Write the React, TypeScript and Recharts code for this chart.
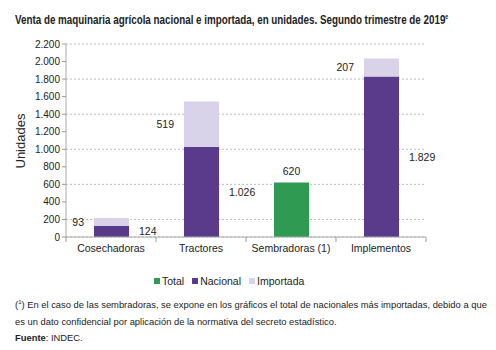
import { Bar, BarChart, CartesianGrid, LabelList, XAxis, YAxis } from "recharts"

const categories = ["Cosechadoras", "Tractores", "Sembradoras (1)", "Implementos"]
const totalValues = [null, null, 620, null]
const nacionalValues = [124, 1026, null, 1829]
const importadaValues = [93, 519, null, 207]
const yTicks = [0, 200, 400, 600, 800, 1000, 1200, 1400, 1600, 1800, 2000, 2200]
const legendItems = [
  { label: "Total", color: "#2f9a52" },
  { label: "Nacional", color: "#5a3a8a" },
  { label: "Importada", color: "#d8d3e8" },
]

const [GREEN, PURPLE, LAVENDER] = legendItems.map((l) => l.color)

const data = categories.map((name, i) => ({
  name,
  total: totalValues[i],
  nacional: nacionalValues[i],
  importada: importadaValues[i],
}))

const fmt = (v: any) => (v == null ? "" : Number(v).toLocaleString("de-DE"))

const CatTick = (props: any) => {
  const { x, y, payload, index } = props
  const half = payload.offset || 45
  return (
    <g>
      <line x1={x + half} x2={x + half} y1={y - 8} y2={y - 3} stroke="#999" />
      {index === 0 && <line x1={x - half} x2={x - half} y1={y - 8} y2={y - 3} stroke="#999" />}
      <text x={x} y={y + 7} textAnchor="middle" fontSize={10.5} fill="#222">
        {payload.value}
      </text>
    </g>
  )
}

const supStyle = { lineHeight: 0, verticalAlign: "super" as const }

const App = () => {
  return (
    <div style={{ position: "relative", width: 480, height: 340, fontFamily: "Arial, 'Liberation Sans', sans-serif", color: "#222" }}>
      <div
        style={{
          position: "absolute",
          left: 7,
          top: 4,
          fontWeight: "bold",
          fontSize: 13,
          whiteSpace: "nowrap",
          transform: "scaleX(0.755)",
          transformOrigin: "left center",
        }}
      >
        Venta de maquinaria agrícola nacional e importada, en unidades. Segundo trimestre de 2019
        <span style={{ ...supStyle, fontSize: 7 }}>e</span>
      </div>
      <div style={{ position: "absolute", left: 0, top: 0 }}>
        <BarChart width={480} height={262} data={data} margin={{ top: 36, right: 62, left: 0, bottom: 3 }}>
          <CartesianGrid vertical={false} stroke="#bbb" strokeDasharray="2 2" />
          <XAxis
            dataKey="name"
            tick={<CatTick />}
            tickLine={false}
            axisLine={{ stroke: "#aaa" }}
            interval={0}
          />
          <YAxis
            width={58}
            domain={[0, 2200]}
            ticks={yTicks}
            tickFormatter={fmt}
            tick={{ fontSize: 10, fill: "#222" }}
            tickSize={4}
            tickLine={{ stroke: "#999" }}
            axisLine={{ stroke: "#aaa" }}
            label={{ value: "Unidades", angle: -90, position: "insideLeft", dx: 7, dy: 28, fontSize: 13, fill: "#222" }}
          />
          <Bar dataKey="total" name="Total" stackId="a" fill={GREEN} barSize={35} isAnimationActive={false}>
            <LabelList dataKey="total" position="top" formatter={fmt} fontSize={10.5} fill="#222" offset={8} />
          </Bar>
          <Bar dataKey="nacional" name="Nacional" stackId="a" fill={PURPLE} barSize={35} isAnimationActive={false}>
            <LabelList dataKey="nacional" position="right" formatter={fmt} fontSize={10.5} fill="#222" offset={10} />
          </Bar>
          <Bar dataKey="importada" name="Importada" stackId="a" fill={LAVENDER} barSize={35} isAnimationActive={false}>
            <LabelList dataKey="importada" position="left" formatter={fmt} fontSize={10.5} fill="#222" offset={10} />
          </Bar>
        </BarChart>
      </div>
      <div style={{ position: "absolute", left: 146, top: 266, display: "flex", gap: 8, fontSize: 10.5, lineHeight: "14px" }}>
        {legendItems.map((l) => (
          <div key={l.label} style={{ display: "flex", alignItems: "center" }}>
            <span style={{ width: 6, height: 6, background: l.color, marginRight: 2, display: "inline-block" }} />
            {l.label}
          </div>
        ))}
      </div>
      <div style={{ position: "absolute", left: 7, top: 289, fontSize: 9.4, lineHeight: "16.5px", whiteSpace: "nowrap" }}>
        <div>
          (<span style={{ ...supStyle, fontSize: 6 }}>1</span>) En el caso de las sembradoras, se expone en los gráficos el total de nacionales más importadas, debido a que
        </div>
        <div>es un dato confidencial por aplicación de la normativa del secreto estadístico.</div>
        <div>
          <b>Fuente</b>: INDEC.
        </div>
      </div>
    </div>
  )
}

export default App
